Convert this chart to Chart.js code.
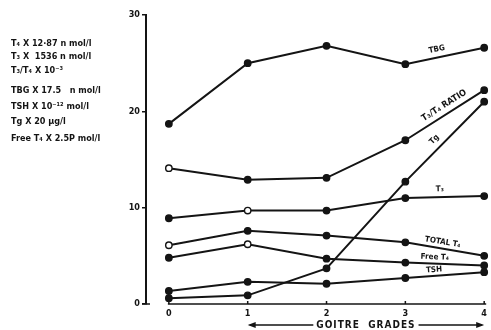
<!DOCTYPE html>
<html><head><meta charset="utf-8">
<script src="https://cdn.jsdelivr.net/npm/chart.js@4/dist/chart.umd.min.js"></script>
<style>html,body{margin:0;padding:0;background:#fff;}</style>
</head><body>
<canvas id="c" width="491" height="330"></canvas>
<script>
// ---- data ----
const grades = [0, 1, 2, 3, 4];
const gradeLabels = ['0', '1', '2', '3', '4'];
const yTicks = [0, 10, 20, 30];
const tbg       = [18.7, 25.0, 26.8, 24.9, 26.6];
const t3t4Ratio = [14.1, 12.9, 13.1, 17.0, 22.2];
const tg        = [0.6, 0.9, 3.7, 12.7, 21.0];
const t3        = [8.9, 9.7, 9.7, 11.0, 11.2];
const totalT4   = [6.1, 7.6, 7.1, 6.4, 5.0];
const freeT4    = [4.8, 6.2, 4.7, 4.3, 4.0];
const tsh       = [1.35, 2.3, 2.1, 2.7, 3.3];
const legendLines = [
  'T\u2084 X 12\u00b787 n mol/l',
  'T\u2083 X  1536 n mol/l',
  'T\u2083/T\u2084 X 10\u207b\u00b3',
  'TBG X 17.5   n mol/l',
  'TSH X 10\u207b\u00b9\u00b2 mol/l',
  'Tg X 20 \u00b5g/l',
  'Free T\u2084 X 2.5P mol/l'
];
const axisTitle = 'GOITRE  GRADES';

const INK = '#141414';
const FONT = '"DejaVu Sans Condensed", "DejaVu Sans", sans-serif';

function mk(label, data, open) {
  return {
    label,
    data: data.map((v, i) => ({ x: grades[i], y: v })),
    borderColor: INK, borderWidth: 2, tension: 0, clip: false,
    pointRadius: 3.2, pointHoverRadius: 3.2, pointBorderWidth: 1.4, pointBorderColor: INK,
    pointBackgroundColor: data.map((_, i) => open.includes(i) ? '#fff' : INK)
  };
}

const datasets = [
  mk('TBG', tbg, []),
  mk('T\u2083/T\u2084 RATIO', t3t4Ratio, [0]),
  mk('Tg', tg, []),
  mk('T\u2083', t3, [1]),
  mk('TOTAL T\u2084', totalT4, [0]),
  mk('Free T\u2084', freeT4, [1]),
  mk('TSH', tsh, [])
];

// line labels: [dataset index, grade position, offset above line, font size]
const lineLabels = [
  [0, 3.42, 8, 8],
  [1, 3.55, 8.5, 9],
  [2, 3.45, 9, 8],
  [3, 3.44, 8, 8],
  [4, 3.46, 6.5, 8],
  [5, 3.37, 6.5, 8],
  [6, 3.37, 6, 8]
];

const decor = {
  id: 'decor',
  afterDraw(chart) {
    const ctx = chart.ctx, xs = chart.scales.x, ys = chart.scales.y, ca = chart.chartArea;
    ctx.save();
    ctx.strokeStyle = INK; ctx.fillStyle = INK;
    // x axis line with upward ticks
    const y0 = ca.bottom;
    ctx.lineWidth = 1.5;
    ctx.beginPath();
    ctx.moveTo(xs.getPixelForValue(grades[0]) - 1, y0);
    ctx.lineTo(xs.getPixelForValue(grades[grades.length - 1]) + 2, y0);
    ctx.stroke();
    grades.forEach(g => {
      const px = xs.getPixelForValue(g);
      ctx.beginPath(); ctx.moveTo(px, y0); ctx.lineTo(px, y0 - 3); ctx.stroke();
    });
    // foot at y-axis zero
    ctx.beginPath(); ctx.moveTo(ca.left - 4, ys.getPixelForValue(0)); ctx.lineTo(ca.left + 4, ys.getPixelForValue(0)); ctx.stroke();

    // goitre grades title with arrows
    ctx.font = 'bold 10px ' + FONT;
    ctx.letterSpacing = '1px';
    const a = xs.getPixelForValue(1), b = xs.getPixelForValue(4);
    const mid = (a + b) / 2, ty = 325;
    const w = ctx.measureText(axisTitle).width;
    ctx.textAlign = 'center'; ctx.textBaseline = 'middle';
    ctx.fillText(axisTitle, mid, ty);
    ctx.letterSpacing = '0px';
    ctx.lineWidth = 1.3;
    ctx.beginPath();
    ctx.moveTo(a + 2, ty); ctx.lineTo(mid - w / 2 - 3, ty);
    ctx.moveTo(mid + w / 2 + 3, ty); ctx.lineTo(b - 2, ty);
    ctx.stroke();
    ctx.beginPath(); ctx.moveTo(a, ty); ctx.lineTo(a + 8, ty - 3); ctx.lineTo(a + 8, ty + 3); ctx.closePath(); ctx.fill();
    ctx.beginPath(); ctx.moveTo(b, ty); ctx.lineTo(b - 8, ty - 3); ctx.lineTo(b - 8, ty + 3); ctx.closePath(); ctx.fill();

    // legend text block
    ctx.textAlign = 'left'; ctx.textBaseline = 'middle';
    ctx.font = 'bold 9px ' + FONT;
    const ly = [44, 57, 71, 91, 107, 122, 139];
    legendLines.forEach((t, i) => ctx.fillText(t, 11, ly[i]));

    // line labels
    lineLabels.forEach(([di, g, off, fs]) => {
      const d = datasets[di].data;
      const i = Math.floor(g), f = g - i;
      const p1x = xs.getPixelForValue(d[i].x), p1y = ys.getPixelForValue(d[i].y);
      const p2x = xs.getPixelForValue(d[i + 1].x), p2y = ys.getPixelForValue(d[i + 1].y);
      const px = p1x + f * (p2x - p1x), py = p1y + f * (p2y - p1y);
      const ang = Math.atan2(p2y - p1y, p2x - p1x);
      ctx.save();
      ctx.translate(px, py); ctx.rotate(ang);
      ctx.font = 'bold ' + fs + 'px ' + FONT;
      ctx.textAlign = 'center'; ctx.textBaseline = 'middle';
      ctx.fillText(datasets[di].label, 0, -off);
      ctx.restore();
    });
    ctx.restore();
  }
};

new Chart(document.getElementById('c'), {
  type: 'line',
  data: { datasets },
  options: {
    responsive: false, animation: false,
    layout: { padding: { top: 15, right: 3, left: 0, bottom: 0 } },
    plugins: { legend: { display: false }, tooltip: { enabled: false } },
    scales: {
      x: {
        type: 'linear', min: -0.29, max: 4,
        afterBuildTicks: s => { s.ticks = grades.map(v => ({ value: v })); },
        afterFit: s => { s.height = 26; },
        grid: { display: false, drawTicks: false },
        border: { display: false },
        ticks: { autoSkip: false, maxRotation: 0, padding: 4, color: INK,
                 font: { family: FONT, weight: 'bold', size: 9 },
                 callback: (v) => gradeLabels[grades.indexOf(v)] }
      },
      y: {
        type: 'linear', min: 0, max: 30,
        afterBuildTicks: s => { s.ticks = yTicks.map(v => ({ value: v })); },
        afterFit: s => { s.width = 146; },
        grid: { display: true, drawOnChartArea: false, drawTicks: true, tickLength: 4, color: INK, lineWidth: 1.5 },
        border: { display: true, color: INK, width: 2 },
        ticks: { padding: 2, color: INK, font: { family: FONT, weight: 'bold', size: 9 } }
      }
    }
  },
  plugins: [decor]
});
</script>
</body></html>
